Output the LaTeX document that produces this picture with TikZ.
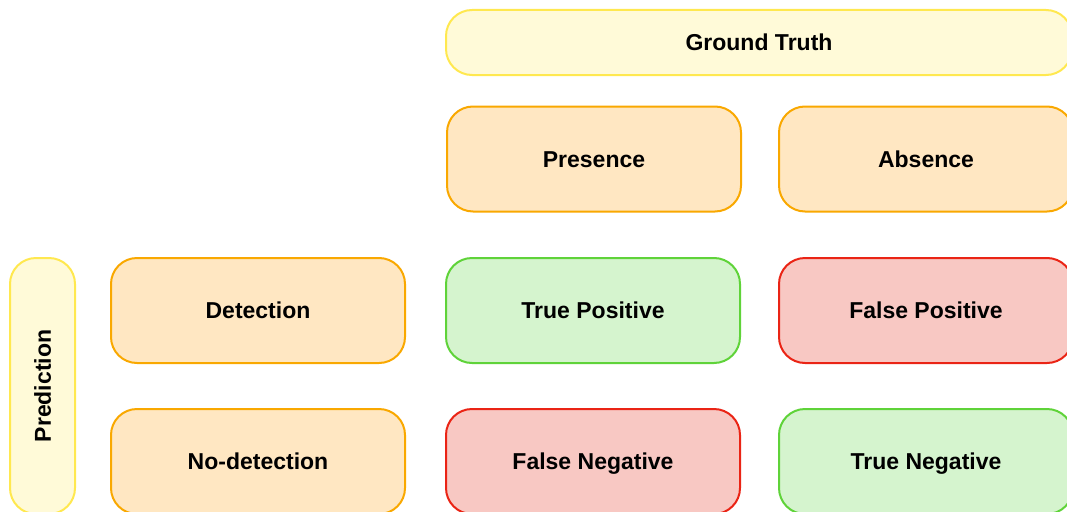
\documentclass[tikz,border=0pt]{standalone}
\usepackage{fontspec}
\setmainfont{Liberation Sans}
\definecolor{ylfill}{HTML}{FFFAD8}
\definecolor{yldraw}{HTML}{FFE84F}
\definecolor{orfill}{HTML}{FFE7C2}
\definecolor{ordraw}{HTML}{F9A800}
\definecolor{grfill}{HTML}{D5F4CE}
\definecolor{grdraw}{HTML}{5FD339}
\definecolor{rdfill}{HTML}{F8C8C3}
\definecolor{rddraw}{HTML}{EA2415}
\tikzset{
  cell/.style={rounded corners=26pt, line width=2pt, minimum width=294pt, minimum height=105pt,
    inner sep=0pt, text height=16.5pt, text depth=0pt, font=\fontsize{23}{28}\selectfont\bfseries},
  ylbox/.style={cell, fill=ylfill, draw=yldraw},
  orbox/.style={cell, fill=orfill, draw=ordraw},
  grbox/.style={cell, fill=grfill, draw=grdraw},
  rdbox/.style={cell, fill=rdfill, draw=rddraw},
}
\begin{document}
\begin{tikzpicture}[x=1pt,y=-1pt]
\useasboundingbox (0,0) rectangle (1067,511);
\clip (0,0) rectangle (1067,511);
\node[ylbox, minimum width=626pt, minimum height=65pt] (gt) at (759,42.5) {Ground Truth};
\node[orbox] (pres) at (594,159) {Presence};
\node[orbox] (abs) at (926,159) {Absence};
\node[ylbox, minimum width=256pt, minimum height=65pt, rotate=90] (pred) at (42.5,386) {Prediction};
\node[orbox] (det) at (258,310.5) {Detection};
\node[grbox] (tp) at (593,310.5) {True Positive};
\node[rdbox] (fp) at (926,310.5) {False Positive};
\node[orbox] (nodet) at (258,461.5) {No-detection};
\node[rdbox] (fn) at (593,461.5) {False Negative};
\node[grbox] (tn) at (926,461.5) {True Negative};
\end{tikzpicture}
\end{document}
